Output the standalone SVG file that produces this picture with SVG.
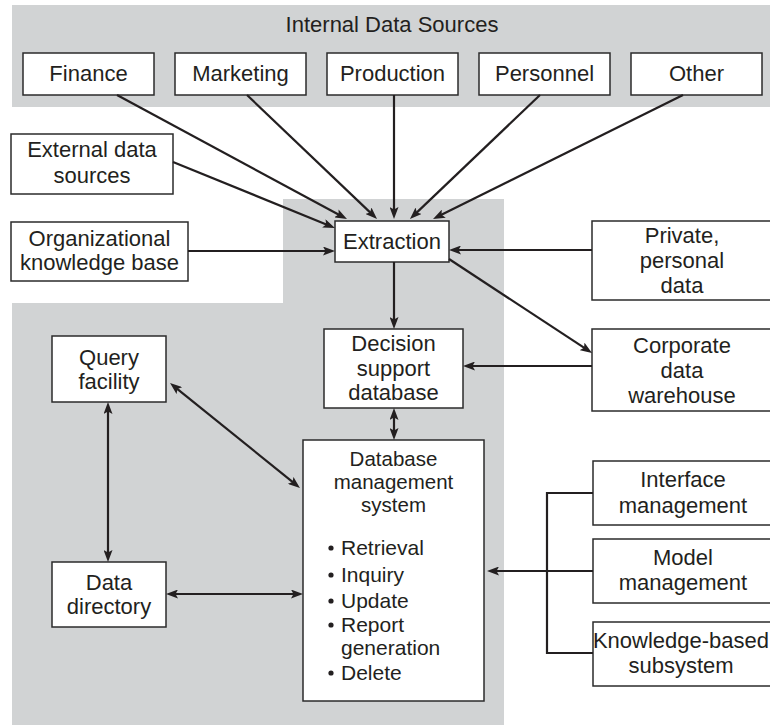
<svg xmlns="http://www.w3.org/2000/svg" width="770" height="725" viewBox="0 0 770 725">
<defs>
<style>
.bg{fill:#d1d3d4;stroke:none}
.box{fill:#ffffff;stroke:#2b2b2b;stroke-width:1.5}
.t{font-family:"Liberation Sans",Arial,sans-serif;font-size:22px;fill:#231f20;text-anchor:middle}
.tl{font-family:"Liberation Sans",Arial,sans-serif;font-size:21px;fill:#231f20;text-anchor:start}
.ts{font-family:"Liberation Sans",Arial,sans-serif;font-size:20.5px;fill:#231f20;text-anchor:middle}
.c{fill:none;stroke:#231f20;stroke-width:2.2}
.a{marker-end:url(#ah)}
.aa{marker-start:url(#ah);marker-end:url(#ah)}
.dot{fill:#231f20}
</style>
<marker id="ah" viewBox="0 0 12 9" refX="6" refY="4.5" markerWidth="12" markerHeight="9" markerUnits="userSpaceOnUse" orient="auto-start-reverse">
<path d="M0,0 L12,4.5 L0,9 L2.5,4.5 Z" fill="#231f20"/>
</marker>
</defs>

<g id="backgrounds">
<rect class="bg" x="12" y="5" width="758" height="102"/>
<path class="bg" d="M283,199 H504 V725 H12 V303 H283 Z"/>
</g>

<g id="internal-title">
<text class="t" x="392" y="32">Internal Data Sources</text>
</g>

<g id="finance"><rect class="box" x="23" y="53" width="131" height="42"/><text class="t" x="88.5" y="81">Finance</text></g>
<g id="marketing"><rect class="box" x="175" y="53" width="131" height="42"/><text class="t" x="240.5" y="81">Marketing</text></g>
<g id="production"><rect class="box" x="327" y="53" width="131" height="42"/><text class="t" x="392.5" y="81">Production</text></g>
<g id="personnel"><rect class="box" x="479" y="53" width="131" height="42"/><text class="t" x="544.5" y="81">Personnel</text></g>
<g id="other"><rect class="box" x="631" y="53" width="131" height="42"/><text class="t" x="696.5" y="81">Other</text></g>

<g id="external"><rect class="box" x="11" y="134" width="162" height="60"/><text class="t" x="92" y="157">External data</text><text class="t" x="92" y="183">sources</text></g>
<g id="orgkb"><rect class="box" x="11" y="222" width="177" height="59"/><text class="t" x="99.5" y="246">Organizational</text><text class="t" x="99.5" y="270">knowledge base</text></g>

<g id="extraction"><rect class="box" x="335" y="221" width="114" height="41"/><text class="t" x="392" y="249">Extraction</text></g>

<g id="private"><rect class="box" x="592" y="221" width="185" height="79"/><text class="t" x="682" y="243">Private,</text><text class="t" x="682" y="268">personal</text><text class="t" x="682" y="293">data</text></g>
<g id="corporate"><rect class="box" x="592" y="329" width="185" height="82"/><text class="t" x="682" y="353">Corporate</text><text class="t" x="682" y="378">data</text><text class="t" x="682" y="403">warehouse</text></g>

<g id="dsd"><rect class="box" x="324" y="329" width="139" height="79"/><text class="t" x="393.5" y="351">Decision</text><text class="t" x="393.5" y="376">support</text><text class="t" x="393.5" y="400">database</text></g>

<g id="query"><rect class="box" x="52" y="336" width="114" height="66"/><text class="t" x="109" y="365">Query</text><text class="t" x="109" y="389">facility</text></g>
<g id="datadir"><rect class="box" x="52" y="562" width="114" height="65"/><text class="t" x="109" y="590">Data</text><text class="t" x="109" y="614">directory</text></g>

<g id="dbms">
<rect class="box" x="303" y="440" width="181" height="261"/>
<text class="ts" x="393.5" y="466">Database</text>
<text class="ts" x="393.5" y="489">management</text>
<text class="ts" x="393.5" y="512">system</text>
<circle class="dot" cx="331" cy="548" r="2.6"/><text class="tl" x="341" y="555">Retrieval</text>
<circle class="dot" cx="331" cy="575" r="2.6"/><text class="tl" x="341" y="582">Inquiry</text>
<circle class="dot" cx="331" cy="601" r="2.6"/><text class="tl" x="341" y="608">Update</text>
<circle class="dot" cx="331" cy="625" r="2.6"/><text class="tl" x="341" y="632">Report</text>
<text class="tl" x="341" y="655">generation</text>
<circle class="dot" cx="331" cy="673" r="2.6"/><text class="tl" x="341" y="680">Delete</text>
</g>

<g id="interface"><rect class="box" x="593" y="461" width="184" height="64"/><text class="t" x="683" y="487">Interface</text><text class="t" x="683" y="513">management</text></g>
<g id="model"><rect class="box" x="593" y="539" width="184" height="64"/><text class="t" x="683" y="565">Model</text><text class="t" x="683" y="590">management</text></g>
<g id="knowledge"><rect class="box" x="593" y="622" width="184" height="64"/><text class="t" x="681" y="648">Knowledge-based</text><text class="t" x="681" y="673">subsystem</text></g>

<g id="connectors">
<line class="c a" x1="117" y1="95" x2="341.7" y2="216.2"/>
<line class="c a" x1="247" y1="95" x2="372.7" y2="214.9"/>
<line class="c a" x1="394" y1="95" x2="394" y2="213"/>
<line class="c a" x1="540" y1="95" x2="414.3" y2="214.9"/>
<line class="c a" x1="683" y1="95" x2="438.4" y2="216.3"/>
<line class="c a" x1="173" y1="162" x2="329.4" y2="225.7"/>
<line class="c a" x1="188" y1="251" x2="329" y2="251"/>
<line class="c a" x1="592" y1="250" x2="455" y2="250"/>
<line class="c a" x1="394" y1="262" x2="394" y2="323"/>
<line class="c a" x1="449" y1="259" x2="587" y2="349.7"/>
<line class="c a" x1="592" y1="366" x2="469" y2="366"/>
<line class="c aa" x1="394" y1="414" x2="394" y2="434"/>
<line class="c aa" x1="174.7" y1="386.8" x2="295.3" y2="484.2"/>
<line class="c aa" x1="108" y1="408" x2="108" y2="556"/>
<line class="c aa" x1="172" y1="594" x2="297" y2="594"/>
<path class="c" d="M593,493 H547 V653 H593"/>
<line class="c a" x1="593" y1="571" x2="493" y2="571"/>
</g>
</svg>
